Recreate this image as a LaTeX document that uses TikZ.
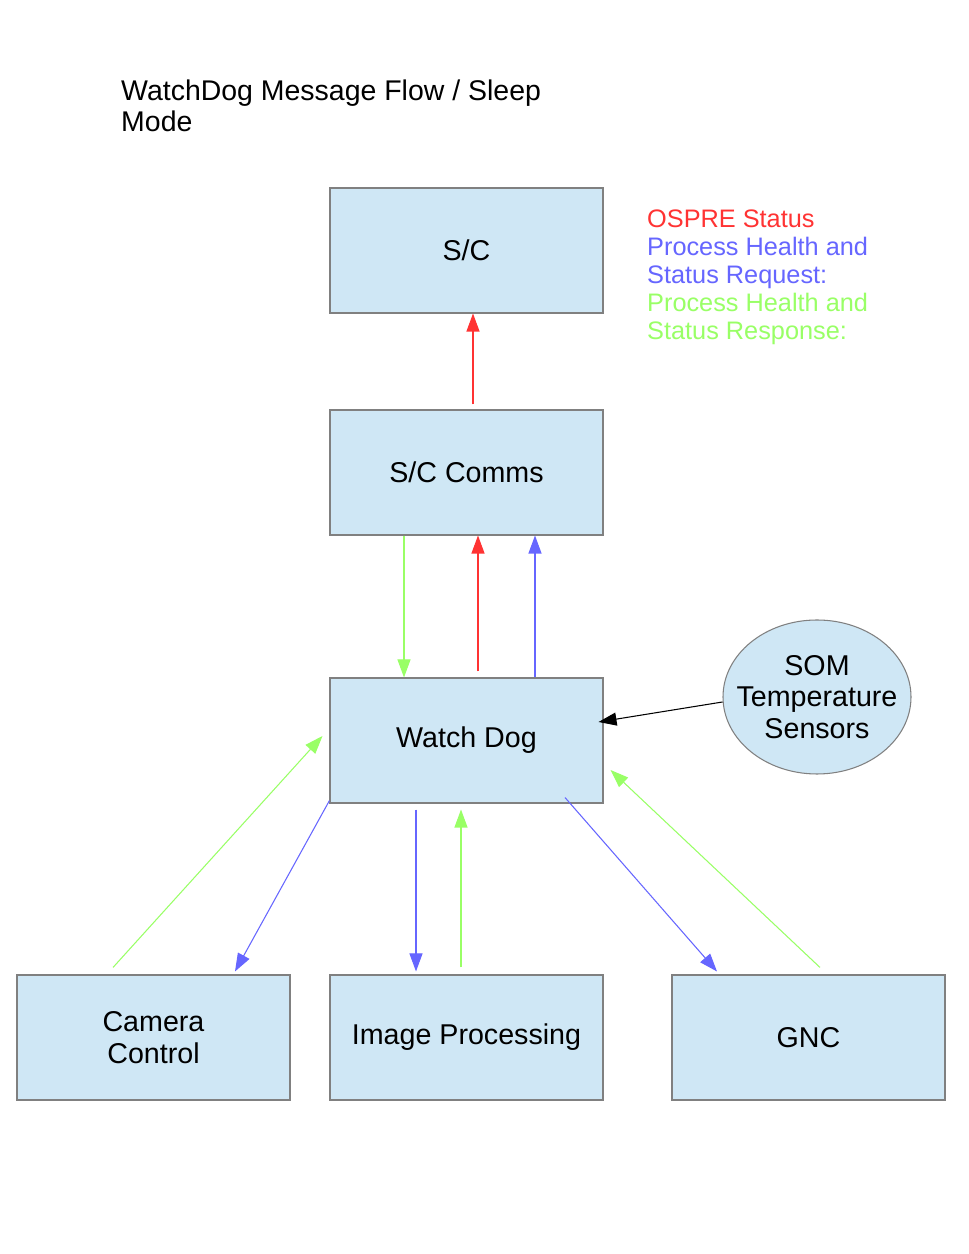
\documentclass[tikz,border=0pt]{standalone}
\usepackage{fontspec}
\setmainfont{Liberation Sans}
\usepackage{tikz}
\usetikzlibrary{calc}
\usetikzlibrary{shapes.geometric}
\usetikzlibrary{arrows.meta,positioning}

\definecolor{boxblue}{RGB}{207,231,245}
\definecolor{boxline}{RGB}{128,128,128}
\definecolor{msgred}{RGB}{255,51,51}
\definecolor{msgblue}{RGB}{102,102,255}
\definecolor{msggreen}{RGB}{153,255,102}

\tikzset{
  procbox/.style={rectangle,minimum height=2.5cm,minimum width=5.46cm,fill=boxblue,draw=boxline,line width=0.6pt,font=\fontsize{16.3}{18.5}\selectfont,align=center},
  msgarrow/.style={arrows=-{Triangle[length=0.36cm,width=0.26cm]},line width=0.6pt}
}

\begin{document}
\begin{tikzpicture}

% page frame
\fill[white] (0,0) rectangle (19.38,25.08);
\useasboundingbox (0,0) rectangle (19.38,25.08);

\coordinate (LEFTCORNER) at (0,0);
\node at (LEFTCORNER) (input) {};

%%%%%%%%%%%%%%%%%%%%%

%draw title + legend
\node[anchor=west,align=left,font=\fontsize{16.2}{17.6}\selectfont] at ($(input)+(2.3,22.97)$) (TITLE) {WatchDog Message Flow / Sleep\\Mode};

\node[anchor=west,align=left,font=\fontsize{14.4}{16}\selectfont] at ($(input)+(12.82,19.53)$) (LEGEND) {\textcolor{msgred}{OSPRE Status}\\\textcolor{msgblue}{Process Health and}\\\textcolor{msgblue}{Status Request:}\\\textcolor{msggreen}{Process Health and}\\\textcolor{msggreen}{Status Response:}};

%%%%%%%

%draw boxes
\node[procbox] at ($(input)+(9.33,20.07)$) (SC) {S/C};
\node[procbox] at ($(input)+(9.33,15.63)$) (SCCOMMS) {S/C Comms};
\node[procbox] at ($(input)+(9.33,10.27)$) (WATCHDOG) {Watch Dog};

\node[procbox] at ($(input)+(3.07,4.33)$) (CAMERA) {Camera\\Control};
\node[procbox] at ($(input)+(9.33,4.33)$) (IMGPROC) {Image Processing};
\node[procbox] at ($(input)+(16.17,4.33)$) (GNC) {GNC};

%draw sensors (negative sep so the text nearly touches the rim)
\node[ellipse,minimum width=3.76cm,minimum height=3.08cm,inner xsep=-0.5cm,inner ysep=-0.3cm,fill=boxblue,draw=boxline,line width=0.6pt,align=center,font=\fontsize{16.3}{18}\selectfont] at ($(input)+(16.34,11.14)$) (SOM) {SOM\\Temperature\\Sensors};

%%%%%%%%%%%%%%%%%%%
%draw messages up to the S/C

\coordinate (REDUP1) at ($(SCCOMMS.north)+(0.13,0.1)$);
\draw[msgarrow,msgred] (REDUP1) -- (REDUP1 |- SC.south);

\draw[msgarrow,msggreen] ($(SCCOMMS.south)+(-1.25,0)$) -- ($(WATCHDOG.north)+(-1.25,0)$);
\draw[msgarrow,msgred] ($(WATCHDOG.north)+(0.23,0.12)$) -- ($(SCCOMMS.south)+(0.23,0)$);
\draw[msgarrow,msgblue] ($(WATCHDOG.north)+(1.37,0)$) -- ($(SCCOMMS.south)+(1.37,0)$);

%draw sensor input
\draw[msgarrow,black] ($(SOM.west)+(0,-0.1)$) -- ($(WATCHDOG.east)+(-0.1,0.37)$);

%draw messages down to the processes
\draw[msgarrow,msggreen] ($(CAMERA.north)+(-0.81,0.14)$) -- ($(WATCHDOG.west)+(-0.14,0.09)$);
\draw[msgarrow,msgblue] ($(WATCHDOG.south west)+(0,0.06)$) -- ($(CAMERA.north)+(1.63,0.06)$);

\draw[msgarrow,msgblue] ($(WATCHDOG.south)+(-1.01,-0.12)$) -- ($(IMGPROC.north)+(-1.01,0.06)$);
\draw[msgarrow,msggreen] ($(IMGPROC.north)+(-0.11,0.14)$) -- ($(WATCHDOG.south)+(-0.11,-0.12)$);

\draw[msgarrow,msgblue] ($(WATCHDOG.south)+(1.97,0.12)$) -- ($(GNC.north)+(-1.83,0.06)$);
\draw[msgarrow,msggreen] ($(GNC.north)+(0.23,0.14)$) -- ($(WATCHDOG.east)+(0.14,-0.59)$);

%%%%%%%%%%%%%%%%%%%%%%

\end{tikzpicture}
\end{document}
